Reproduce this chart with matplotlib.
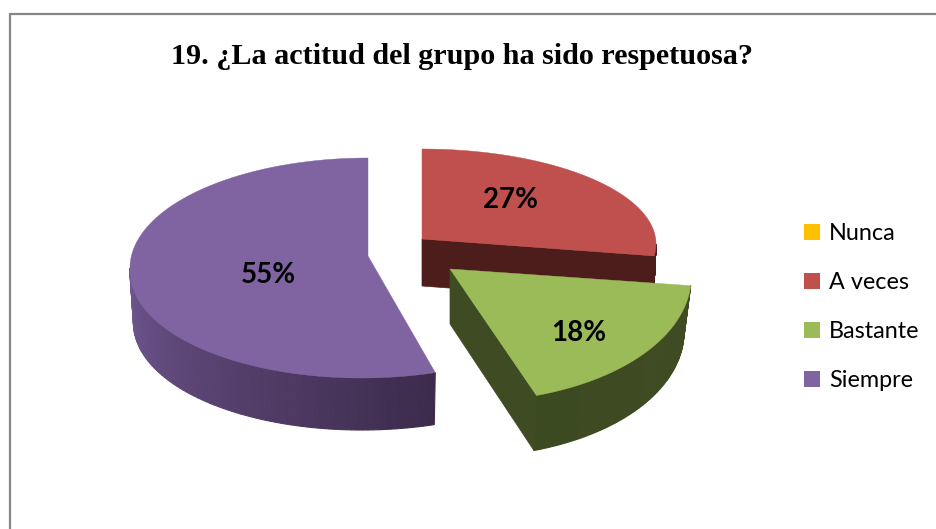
import matplotlib
matplotlib.use("Agg")
import matplotlib.pyplot as plt
import numpy as np
from matplotlib.colors import LinearSegmentedColormap
from matplotlib.patches import Patch, Polygon, Rectangle

TITLE = "19. ¿La actitud del grupo ha sido respetuosa?"
categories = ["Nunca", "A veces", "Bastante", "Siempre"]
percents = [0, 27, 18, 55]
colors = ["#FFC000", "#C0504D", "#9BBB59", "#8064A2"]

# Fake 3D look of each exploded slice, in pixels of the 936x529 picture
# label is the centre and baseline of the percent text
shapes = {
    "A veces": dict(ex=422, ey=244, rx=234, ry=95, apex_dy=-5, shear=0, depth=47, shrink=0.99,
                    wall=("#4D1D1C", "#4D1D1C"), cut=True, label=(510, 208)),
    "Bastante": dict(ex=450, ey=269, rx=241, ry=133, apex_dy=0, shear=0.095, depth=55, shrink=0.97,
                     wall=("#3F4B23", "#3C4A22"), cut=True, label=(578.5, 341)),
    "Siempre": dict(ex=368, ey=268, rx=238, ry=110, apex_dy=-12, shear=-0.06, depth=52, shrink=0.985,
                    wall=("#3C2B4C", "#705690"), cut=False, label=(268.5, 283)),
}


def rim(shape, angles):
    """Points on the top rim of a slice for angles in degrees"""
    rad = np.radians(angles)
    x = shape["ex"] + shape["rx"] * np.cos(rad) + shape["shear"] * shape["ry"] * np.maximum(-np.sin(rad), 0)
    y = shape["ey"] - shape["ry"] * np.sin(rad)
    return x, y


def lower(shape, x, y):
    """Drops top face points down to the bottom of the slice"""
    return shape["ex"] + (x - shape["ex"]) * shape["shrink"], y + shape["depth"]


def drawSlice(ax, shape, start, end, color):
    """Draws one slice clockwise from start to end, walls first and then the top"""
    apex = (shape["ex"], shape["ey"] + shape["apex_dy"])

    if shape["cut"]:
        x, y = rim(shape, np.array([end]))
        x0, y0 = lower(shape, apex[0], apex[1])
        x1, y1 = lower(shape, x[0], y[0])
        ax.add_patch(Polygon([apex, (x[0], y[0]), (x1, y1), (x0, y0)], closed=True,
                             facecolor=shape["wall"][0], edgecolor=shape["wall"][0], lw=0.5))

    # Outer wall, only the part that faces the viewer, in thin strips for the shading
    angles = np.linspace(min(start, 0), max(end, -180), 80)
    ramp = LinearSegmentedColormap.from_list("wall", shape["wall"])
    for i, (a, b) in enumerate(zip(angles[:-1], angles[1:])):
        x, y = rim(shape, np.array([a, b]))
        xl, yl = lower(shape, x, y)
        c = ramp(i / (len(angles) - 2))
        ax.add_patch(Polygon(np.c_[np.r_[x, xl[::-1]], np.r_[y, yl[::-1]]], closed=True,
                             facecolor=c, edgecolor=c, lw=0.8))

    x, y = rim(shape, np.linspace(start, end, 200))
    ax.add_patch(Polygon(np.c_[np.r_[apex[0], x], np.r_[apex[1], y]], closed=True,
                         facecolor=color, edgecolor=color, lw=0.3))


def plot(output="out.png"):
    fig = plt.figure(figsize=(9.36, 5.29), dpi=100)
    ax = fig.add_axes([0, 0, 1, 1])
    ax.set_xlim(0, 936)
    ax.set_ylim(529, 0)
    ax.axis("off")

    # The frame runs off the picture on the right and at the bottom
    ax.add_patch(Rectangle((10, 14), 940, 530, facecolor="white", edgecolor="#868686", lw=1.6))
    ax.text(462, 64, TITLE, family="Liberation Serif", weight="bold", fontsize=21.7,
            ha="center", va="baseline", color="black")

    # Slices run clockwise from the top, the 0% one leaves no mark
    start = 90.
    spans = {}
    for name, pct in zip(categories, percents):
        spans[name] = (start, start - pct * 3.6)
        start -= pct * 3.6

    for name, color in zip(categories, colors):
        if name in shapes:
            drawSlice(ax, shapes[name], spans[name][0], spans[name][1], color)

    for name, pct in zip(categories, percents):
        if name in shapes:
            lx, ly = shapes[name]["label"]
            ax.text(lx, ly, f"{pct}%", family="Lato", weight="bold", fontsize=20,
                    ha="center", va="baseline", color="black")

    handles = [Patch(facecolor=c, edgecolor="none") for c in colors]
    ax.legend(handles, categories, loc="center left", bbox_to_anchor=(804 / 936, 1 - 307 / 529),
              frameon=False, prop=dict(family="Lato", size=16.8), handlelength=0.68, handleheight=0.68,
              handletextpad=0.39, labelspacing=1.2, borderpad=0, borderaxespad=0)

    fig.savefig(output, dpi=100)


if __name__ == "__main__":
    plot()
